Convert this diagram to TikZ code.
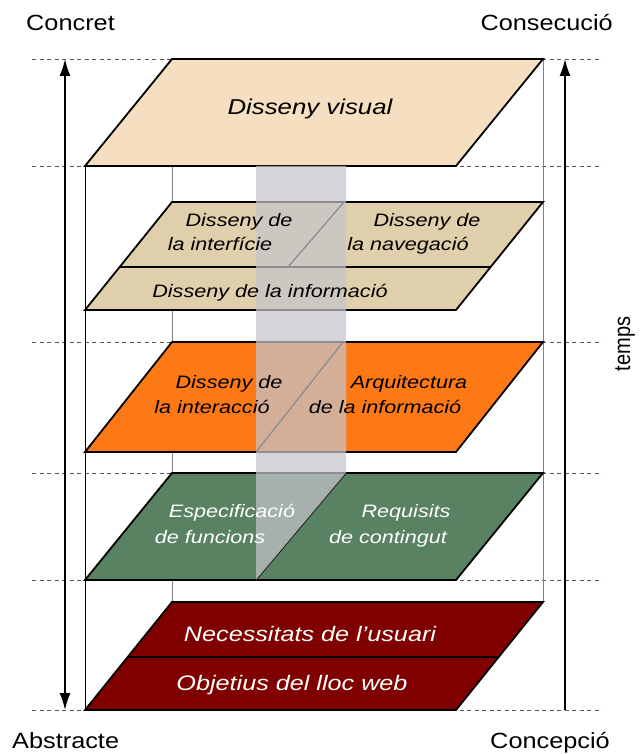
\documentclass[tikz,border=0pt]{standalone}
\usepackage{fontspec}
\setmainfont{Liberation Sans}
\usetikzlibrary{arrows.meta}

\definecolor{visualfill}{RGB}{245,223,192}
\definecolor{navfill}{RGB}{224,207,171}
\definecolor{interfill}{RGB}{252,121,22}
\definecolor{funcfill}{RGB}{89,130,98}
\definecolor{goalfill}{RGB}{128,0,0}
\definecolor{colfill}{RGB}{196,196,202}

\tikzset{
    layer/.style={draw=black, line width=1.8pt, line join=miter},
    split/.style={draw=black, line width=1.3pt},
    guide/.style={draw=black!65, line width=0.8pt, dash pattern=on 4pt off 3.5pt},
    post/.style={line width=0.9pt},
    timeline/.style={draw=black, line width=1.6pt},
    lbl/.style={font=\fontsize{18}{22}\selectfont\itshape, xscale=1.2, anchor=base, inner sep=0pt},
    outer/.style={font=\fontsize{22}{26}\selectfont, xscale=1.15, inner sep=0pt}
}

\begin{document}
\begin{tikzpicture}[x=1pt, y=-1pt]
    \useasboundingbox (0,0) rectangle (640,754);

    % Level guides
    \foreach \y in {59,166,342,473,580,710} {
        \draw[guide] (32,\y) -- (602,\y);
    }

    % Corner posts
    \draw[post, black] (85,166) -- (85,710);
    \draw[post, black!50] (172,166) -- (172,602);
    \draw[post, black!50] (543,59) -- (543,602);

    % Axes
    \coordinate (concrete) at (65,59);
    \coordinate (abstract) at (65,710);
    \coordinate (start) at (565,710);
    \coordinate (goal) at (565,59);
    \draw[timeline, {Latex[length=17pt,width=11pt]}-{Latex[length=17pt,width=11pt]}] (concrete) -- (abstract);
    \draw[timeline, -{Latex[length=17pt,width=11pt]}] (start) -- (goal);

    % Planes
    \foreach \ya/\yb/\col in {59/166/visualfill, 202/310/navfill, 342/452/interfill, 473/580/funcfill, 602/710/goalfill} {
        \draw[layer, fill=\col] (172,\ya) -- (543,\ya) -- (456,\yb) -- (85,\yb) -- cycle;
    }

    % Splits inside the planes
    \draw[split] (120,267) -- (491,267);
    \draw[split] (344,202) -- (288,267);
    \draw[split] (343,342) -- (256,452);
    \draw[split] (346,473) -- (256,580);
    \draw[split] (128,657) -- (499,657);

    % Translucent column
    \fill[colfill, opacity=0.72] (256,166) -- (346,166) -- (346,473) -- (256,580) -- cycle;

    % Plane labels
    \node[lbl, font=\fontsize{21.5}{24}\selectfont\itshape] (visual) at (310,115) {Disseny visual};

    \node[lbl] (uiA) at (239,226) {Disseny de};
    \node[lbl] (uiB) at (220,250) {la interfície};
    \node[lbl] (navA) at (427,226) {Disseny de};
    \node[lbl] (navB) at (408,250) {la navegació};
    \node[lbl] (info) at (270,297) {Disseny de la informació};

    \node[lbl] (interA) at (229,388) {Disseny de};
    \node[lbl] (interB) at (212,413) {la interacció};
    \node[lbl] (archA) at (409,388) {Arquitectura};
    \node[lbl] (archB) at (385,413) {de la informació};

    \node[lbl, white] (funcA) at (232,517) {Especificació};
    \node[lbl, white] (funcB) at (210,543) {de funcions};
    \node[lbl, white] (reqA) at (406,517) {Requisits};
    \node[lbl, white] (reqB) at (388,543) {de contingut};

    \node[lbl, white, font=\fontsize{21}{24}\selectfont\itshape] (needs) at (310,641) {Necessitats de l’usuari};
    \node[lbl, white, font=\fontsize{21}{24}\selectfont\itshape] (aims) at (292,690) {Objetius del lloc web};

    % Axis labels
    \node[outer, anchor=base west] (concret) at (26,31) {Concret};
    \node[outer, anchor=base east] (consec) at (613,31) {Consecució};
    \node[outer, anchor=base west] (abstr) at (12,748) {Abstracte};
    \node[outer, anchor=base east] (concep) at (610,748) {Concepció};
    \node[outer, rotate=90, font=\fontsize{20}{24}\selectfont] (temps) at (625,344) {temps};
\end{tikzpicture}
\end{document}
